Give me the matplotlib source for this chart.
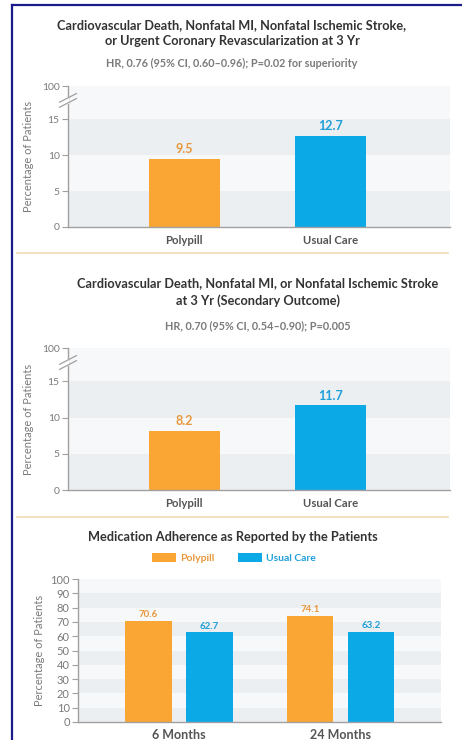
import matplotlib
matplotlib.use("Agg")
import matplotlib.pyplot as plt
from matplotlib.lines import Line2D
from matplotlib.patches import Rectangle

plt.rcParams['font.family'] = ['Lato', 'DejaVu Sans']

# ---------------- data ----------------
groups = ["Polypill", "Usual Care"]
primary_vals = [9.5, 12.7]
secondary_vals = [8.2, 11.7]
timepoints = ["6 Months", "24 Months"]
adh_polypill = [70.6, 74.1]
adh_usual = [62.7, 63.2]

title1 = "Cardiovascular Death, Nonfatal MI, Nonfatal Ischemic Stroke,\nor Urgent Coronary Revascularization at 3 Yr"
sub1 = "HR, 0.76 (95% CI, 0.60\u20130.96); P=0.02 for superiority"
title2 = "Cardiovascular Death, Nonfatal MI, or Nonfatal Ischemic Stroke\nat 3 Yr (Secondary Outcome)"
sub2 = "HR, 0.70 (95% CI, 0.54\u20130.90); P=0.005"
title3 = "Medication Adherence as Reported by the Patients"
ylabel = "Percentage of Patients"

ORANGE = "#F9A634"
BLUE = "#0BA9E6"
ORANGE_T = "#E8973A"
BLUE_T = "#1E9FD8"
GREY_BAND = "#ECEFF2"
LIGHT_BAND = "#F6F8FA"
SPINE = "#A0A0A0"
TICKC = "#7A7A7A"
TITLEC = "#333333"
SUBC = "#7A7A7A"

W, H = 462, 740
fig = plt.figure(figsize=(W / 100, H / 100), dpi=100)
fig.patch.set_facecolor("white")


def ax_px(x0, y_top, x1, y_bot):
    return fig.add_axes([x0 / W, 1 - y_bot / H, (x1 - x0) / W, (y_bot - y_top) / H])


def style(ax, xsize=8.2, xpad=6):
    for s in ["top", "right"]:
        ax.spines[s].set_visible(False)
    for s in ["left", "bottom"]:
        ax.spines[s].set_color(SPINE)
        ax.spines[s].set_linewidth(1.0)
    ax.tick_params(axis="y", colors=SPINE, labelcolor=TICKC, labelsize=7.5, length=4, width=0.8, pad=2)
    ax.tick_params(axis="x", length=0, labelsize=xsize, labelcolor="#555555", pad=xpad)
    ax.set_facecolor("white")
    for lbl in ax.get_xticklabels():
        lbl.set_fontweight("bold")


def broken_panel(vals, ytop_px, ybot_px, title, sub, title_x, title_y, sub_y):
    top = 19.6
    ax = ax_px(68, ytop_px, 450, ybot_px)
    ax.set_ylim(0, top)
    ax.set_xlim(-0.795, 1.82)
    bands = [(0, 5, GREY_BAND), (5, 10, LIGHT_BAND), (10, 15, GREY_BAND), (15, top, LIGHT_BAND)]
    for lo, hi, c in bands:
        ax.axhspan(lo, hi, color=c, zorder=0, lw=0)
    xs = list(range(len(groups)))
    ax.bar(xs, vals, width=0.485, color=[ORANGE, BLUE], zorder=2)
    for x, v, c in zip(xs, vals, [ORANGE_T, BLUE_T]):
        ax.text(x, v + 0.45, f"{v}", ha="center", va="bottom", color=c,
                fontsize=9, fontweight="bold")
    ax.set_yticks([0, 5, 10, 15, top])
    ax.set_yticklabels(["0", "5", "10", "15", "100"])
    ax.set_xticks(xs)
    ax.set_xticklabels(groups)
    style(ax)
    ax.set_ylabel(ylabel, fontsize=8, color=TICKC, labelpad=6)
    # break marks
    yb = 17.6
    ax.add_patch(Rectangle((-0.03, yb - 0.5), 0.032, 1.0, transform=ax.get_yaxis_transform(),
                           facecolor="white", edgecolor="none", zorder=5, clip_on=False))
    for dy in (-0.35, 0.35):
        ax.add_line(Line2D([-0.022, 0.022], [yb + dy - 0.6, yb + dy + 0.6],
                           transform=ax.get_yaxis_transform(), color=SPINE, lw=0.9,
                           clip_on=False, zorder=6))
    fig.text(title_x / W, 1 - title_y / H, title, ha="center", va="center", fontsize=9.2,
             fontweight="bold", color=TITLEC, linespacing=1.45)
    fig.text(title_x / W, 1 - sub_y / H, sub, ha="center", va="center", fontsize=7.8,
             fontweight="bold", color=SUBC)
    return ax


broken_panel(primary_vals, 86, 227, title1, sub1, 232, 33, 63)
broken_panel(secondary_vals, 348, 490, title2, sub2, 258, 292, 326)

# separators
for yy in (253, 517):
    fig.add_artist(Line2D([17 / W, 448 / W], [1 - yy / H, 1 - yy / H], color="#F3DAB3", lw=1.2))

# ---------------- panel 3 ----------------
ax3 = ax_px(78, 579, 441, 722)
ax3.set_ylim(0, 100)
ax3.set_xlim(-0.625, 1.622)
for i in range(10):
    ax3.axhspan(i * 10, i * 10 + 10, color=GREY_BAND if i % 2 == 0 else LIGHT_BAND, zorder=0, lw=0)
xs = list(range(len(timepoints)))
off = 0.189
bw = 0.29
ax3.bar([x - off for x in xs], adh_polypill, width=bw, color=ORANGE, zorder=2, label="Polypill")
ax3.bar([x + off for x in xs], adh_usual, width=bw, color=BLUE, zorder=2, label="Usual Care")
for x, v in zip(xs, adh_polypill):
    ax3.text(x - off, v + 1.2, f"{v}", ha="center", va="bottom", color=ORANGE_T, fontsize=7, fontweight="bold")
for x, v in zip(xs, adh_usual):
    ax3.text(x + off, v + 1.2, f"{v}", ha="center", va="bottom", color=BLUE_T, fontsize=7, fontweight="bold")
ax3.set_yticks(range(0, 101, 10))
ax3.set_xticks(xs)
ax3.set_xticklabels(timepoints)
style(ax3, xsize=9, xpad=5)
ax3.tick_params(axis="y", labelsize=8)
ax3.set_ylabel(ylabel, fontsize=8, color=TICKC, labelpad=4)
leg = ax3.legend(loc="center", ncol=2, frameon=False, fontsize=7.5, handlelength=2.3, handleheight=0.9,
                 columnspacing=2.2, handletextpad=0.4, borderaxespad=0, borderpad=0)
leg.set_bbox_to_anchor((234 / W, 1 - 558 / H), transform=fig.transFigure)
for t, c in zip(leg.get_texts(), [ORANGE_T, BLUE_T]):
    t.set_color(c)
    t.set_fontweight("bold")
fig.text(233 / W, 1 - 537 / H, title3, ha="center", va="center", fontsize=9.2,
         fontweight="bold", color=TITLEC)

# frame
fig.add_artist(Line2D([12 / W, 12 / W], [0, 1 - 5 / H], color="#1B1B8A", lw=1.6))
fig.add_artist(Line2D([12 / W, 1], [1 - 5 / H, 1 - 5 / H], color="#1B1B8A", lw=1.6))

fig.savefig("out.png", dpi=100)
